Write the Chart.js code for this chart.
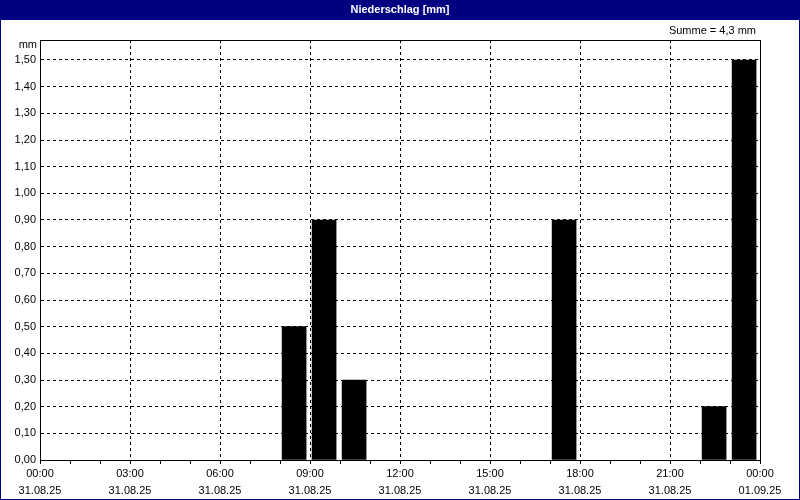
<!DOCTYPE html>
<html>
<head>
<meta charset="utf-8">
<script src="https://cdn.jsdelivr.net/npm/chart.js@4.4.1/dist/chart.umd.min.js"></script>
<style>
  body { margin: 0; background: #fff; }
  canvas { display: block; }
</style>
</head>
<body>
<canvas id="chart" width="800" height="500"></canvas>
<script>
// hourly rain amounts (hour the interval starts, mm)
const rainHours = [8, 9, 10, 17, 22, 23];
const rainValues = [0.5, 0.9, 0.3, 0.9, 0.2, 1.5];

// x axis labels every 3 hours
const tickHours = [0, 3, 6, 9, 12, 15, 18, 21, 24];
const timeLabels = ["00:00", "03:00", "06:00", "09:00", "12:00", "15:00", "18:00", "21:00", "00:00"];
const dateLabels = ["31.08.25", "31.08.25", "31.08.25", "31.08.25", "31.08.25", "31.08.25", "31.08.25", "31.08.25", "01.09.25"];

const chartTitle = "Niederschlag [mm]";
const sumText = "Summe = 4,3 mm";
const unitText = "mm";

const FONT = "Liberation Sans, Arial, sans-serif";

// frame, title bar and extra labels
const framePlugin = {
  id: "frame",
  beforeDraw(chart) {
    const ctx = chart.ctx;
    ctx.save();
    ctx.fillStyle = "#ffffff";
    ctx.fillRect(0, 0, chart.width, chart.height);
    ctx.restore();
  },
  afterDraw(chart) {
    const ctx = chart.ctx;
    const area = chart.chartArea;
    ctx.save();
    // top and right border of the plot box
    ctx.strokeStyle = "#000000";
    ctx.lineWidth = 1;
    ctx.beginPath();
    ctx.moveTo(area.left + 0.5, area.top + 0.5);
    ctx.lineTo(area.right + 0.5, area.top + 0.5);
    ctx.lineTo(area.right + 0.5, area.bottom + 0.5);
    ctx.stroke();

    // title bar
    ctx.fillStyle = "#000080";
    ctx.fillRect(0, 0, chart.width, 20);
    ctx.strokeStyle = "#000080";
    ctx.strokeRect(0.5, 0.5, chart.width - 1, chart.height - 1);

    ctx.fillStyle = "#ffffff";
    ctx.font = "bold 11px " + FONT;
    ctx.textAlign = "center";
    ctx.textBaseline = "middle";
    ctx.fillText(chartTitle, chart.width / 2, 10);

    ctx.fillStyle = "#000000";
    ctx.font = "11px " + FONT;
    ctx.textAlign = "right";
    ctx.fillText(sumText, area.right - 4, 31);
    ctx.fillText(unitText, area.left - 3, 45);
    ctx.restore();
  }
};

const ctx = document.getElementById("chart").getContext("2d");

new Chart(ctx, {
  type: "bar",
  data: {
    datasets: [
      {
        data: rainHours.map((h, i) => ({ x: h + 0.47, y: rainValues[i] })),
        backgroundColor: "#000000",
        borderWidth: 0,
        barThickness: 24
      }
    ]
  },
  options: {
    responsive: false,
    animation: false,
    devicePixelRatio: 1,
    layout: { padding: { top: 40, right: 40, left: 0, bottom: 0 } },
    plugins: {
      legend: { display: false },
      tooltip: { enabled: false }
    },
    scales: {
      x: {
        type: "linear",
        min: 0,
        max: 24,
        offset: false,
        afterBuildTicks: (scale) => {
          const t = [];
          for (let h = 0; h <= 24; h++) t.push({ value: h });
          scale.ticks = t;
        },
        afterFit: (scale) => { scale.height = 40; },
        grid: {
          offset: false,
          color: (c) => (c.tick && c.tick.value % 3 === 0 ? "#000000" : "rgba(0,0,0,0)"),
          tickColor: "#000000",
          tickLength: 4,
          lineWidth: 1
        },
        border: { color: "#000000", width: 1, dash: [3, 3] },
        ticks: {
          autoSkip: false,
          maxRotation: 0,
          padding: 1,
          color: "#000000",
          font: { family: FONT, size: 11, lineHeight: 1.55 },
          callback: (value) => {
            const i = tickHours.indexOf(value);
            return i < 0 ? "" : [timeLabels[i], dateLabels[i]];
          }
        }
      },
      y: {
        min: 0,
        max: 1.575,
        afterBuildTicks: (scale) => {
          const t = [];
          for (let i = 0; i <= 15; i++) t.push({ value: i / 10 });
          scale.ticks = t;
        },
        afterFit: (scale) => { scale.width = 40; },
        grid: {
          color: "#000000",
          drawTicks: false,
          lineWidth: 1
        },
        border: { color: "#000000", width: 1, dash: [3, 3] },
        ticks: {
          padding: 4,
          color: "#000000",
          font: { family: FONT, size: 11 },
          callback: (value) => value.toFixed(2).replace(".", ",")
        }
      }
    }
  },
  plugins: [framePlugin]
});
</script>
</body>
</html>
